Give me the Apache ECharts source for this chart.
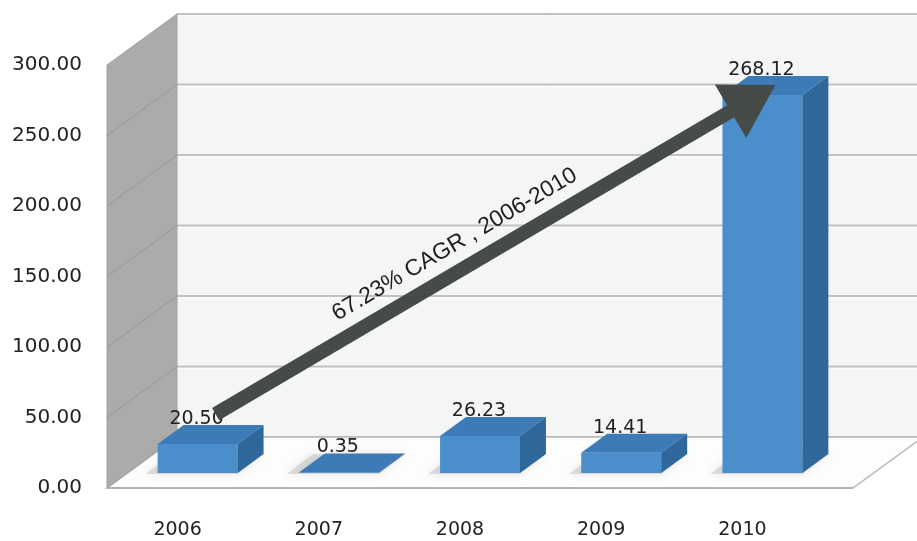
<!DOCTYPE html>
<html>
<head>
<meta charset="utf-8">
<script src="https://cdn.jsdelivr.net/npm/echarts@6/dist/echarts.min.js"></script>
<style>
html,body{margin:0;padding:0;background:#ffffff;}
#chart{width:917px;height:541px;}
</style>
</head>
<body>
<div id="chart"></div>
<script>
// ---- data ----
const categories = ['2006', '2007', '2008', '2009', '2010'];
const values = [20.50, 0.35, 26.23, 14.41, 268.12];
const yMin = 0, yMax = 300, yStep = 50;
const cagrText = '67.23% CAGR , 2006-2010';
const arrowFrom = [0, 20.50];
const arrowTo = [4, 268.12];

// ---- geometry (styling) ----
const DEPTH = [70, -51];       // wall depth vector
const BAR_OFF = [20, -15];     // bar front face offset from front plane
const BAR_DEPTH = [26, -19];   // bar depth vector
const FLOOR_W = 746;

const chart = echarts.init(document.getElementById('chart'), null, {renderer: 'canvas'});

function wallsRender(params, api) {
  const cs = params.coordSys;
  const x0 = cs.x;
  const y0 = api.coord([0, yMin])[1];
  const yT = api.coord([0, yMax])[1];
  const dx = DEPTH[0], dy = DEPTH[1];
  const ch = [];
  ch.push({type: 'rect', shape: {x: x0 + dx, y: yT + dy, width: 1200, height: y0 - yT},
    style: {fill: '#f4f5f5'}});
  for (let v = yMin; v <= yMax; v += yStep) {
    const y = api.coord([0, v])[1] + dy;
    ch.push({type: 'line', shape: {x1: x0 + dx, y1: y, x2: 1200, y2: y},
      style: {stroke: '#c2c2c2', lineWidth: 2}});
    ch.push({type: 'line', shape: {x1: x0 + dx, y1: y + 2, x2: 1200, y2: y + 2},
      style: {stroke: '#ffffff', lineWidth: 1, opacity: 0.8}});
  }
  ch.push({type: 'polygon', shape: {points: [[x0, y0], [x0 + FLOOR_W, y0], [x0 + FLOOR_W + dx, y0 + dy], [x0 + dx, y0 + dy]]},
    style: {fill: '#fdfdfd', stroke: '#b8b8b8', lineWidth: 1.5}});
  ch.push({type: 'polygon', shape: {points: [[x0, yT], [x0 + dx, yT + dy], [x0 + dx, y0 + dy], [x0, y0]]},
    style: {fill: '#ababab', stroke: '#a2a2a2', lineWidth: 1}});
  for (let v = yMin + yStep; v < yMax; v += yStep) {
    const y = api.coord([0, v])[1];
    ch.push({type: 'line', shape: {x1: x0, y1: y, x2: x0 + dx, y2: y + dy},
      style: {stroke: '#979797', lineWidth: 1}});
  }
  ch.push({type: 'line', shape: {x1: x0, y1: y0, x2: x0 + FLOOR_W, y2: y0},
    style: {stroke: '#a8a8a8', lineWidth: 1.5}});
  return {type: 'group', children: ch};
}

function barRender(params, api) {
  const i = api.value(0), v = api.value(1);
  const base = api.coord([i, 0]);
  const top = api.coord([i, v]);
  const w = api.size([1, 0])[0] * 0.566;
  const bx = BAR_DEPTH[0], by = BAR_DEPTH[1];
  const xl = base[0] + BAR_OFF[0] - w / 2, xr = xl + w;
  const yb = base[1] + BAR_OFF[1], yt = top[1] + BAR_OFF[1];
  const ch = [];
  ch.push({type: 'polygon', shape: {points: [[xl - 12, yb + 1], [xr, yb + 1], [xr + bx, yb + by], [xl + bx - 12, yb + by]]},
    style: {fill: 'rgba(170,170,170,0.35)', shadowBlur: 10, shadowColor: 'rgba(140,140,140,0.6)'}});
  ch.push({type: 'rect', shape: {x: xl, y: yt, width: w, height: Math.max(yb - yt, 0.5)},
    style: {fill: '#4a8fcb'}});
  ch.push({type: 'polygon', shape: {points: [[xl, yt], [xr, yt], [xr + bx, yt + by], [xl + bx, yt + by]]},
    style: {fill: '#3c7bb7'}});
  ch.push({type: 'polygon', shape: {points: [[xr, yt], [xr + bx, yt + by], [xr + bx, yb + by], [xr, yb]]},
    style: {fill: '#30679b'}});
  ch.push({type: 'text', x: xl + w / 2 - 1, y: yt - 25, z2: 10,
    style: {text: v.toFixed(2), fill: '#222222', font: '19px "DejaVu Sans"', align: 'center', verticalAlign: 'middle'}});
  return {type: 'group', children: ch};
}

function arrowRender(params, api) {
  const p0 = api.coord(arrowFrom);
  const p1 = api.coord(arrowTo);
  const s = [p0[0] + 38, p0[1] - 45];   // shaft start
  const t = [p1[0] + 33, p1[1] - 25];   // arrow tip
  const ddx = t[0] - s[0], ddy = t[1] - s[1];
  const len = Math.sqrt(ddx * ddx + ddy * ddy);
  const u = [ddx / len, ddy / len];
  const n = [u[1], -u[0]];
  const headL = 52, headW = 31;
  const b = [t[0] - u[0] * headL, t[1] - u[1] * headL];
  const ch = [];
  ch.push({type: 'line', shape: {x1: s[0], y1: s[1], x2: b[0] + u[0] * 4, y2: b[1] + u[1] * 4},
    style: {stroke: '#464b48', lineWidth: 14}});
  ch.push({type: 'polygon', shape: {points: [t, [b[0] + n[0] * headW, b[1] + n[1] * headW], [b[0] - n[0] * headW, b[1] - n[1] * headW]]},
    style: {fill: '#464b48'}});
  const c = [s[0] + u[0] * 292 + n[0] * 25, s[1] + u[1] * 292 + n[1] * 25];
  ch.push({type: 'text', x: c[0], y: c[1], rotation: Math.atan2(-ddy, ddx),
    style: {text: cagrText, fill: '#1e1e1e', font: '23px "Liberation Sans"', align: 'center', verticalAlign: 'middle'}});
  return {type: 'group', children: ch};
}

const option = {
  animation: false,
  backgroundColor: '#ffffff',
  grid: {left: 107, top: 65, width: 706, height: 423},
  xAxis: {
    type: 'category',
    data: categories,
    axisLine: {show: false},
    axisTick: {show: false},
    axisLabel: {fontSize: 19, fontFamily: 'DejaVu Sans', color: '#222222', margin: 33}
  },
  yAxis: {
    type: 'value',
    min: yMin, max: yMax, interval: yStep,
    axisLine: {show: false},
    axisTick: {show: false},
    splitLine: {show: false},
    axisLabel: {fontSize: 20, fontFamily: 'DejaVu Sans', color: '#222222', margin: 25,
      formatter: v => v.toFixed(2)}
  },
  series: [
    {type: 'custom', name: 'walls', z: 1, silent: true, renderItem: wallsRender, data: [[0, 0]]},
    {type: 'custom', name: 'bars', z: 2, renderItem: barRender,
      data: values.map((v, i) => [i, v])},
    {type: 'custom', name: 'arrow', z: 3, silent: true, renderItem: arrowRender, data: [[0, 0]]}
  ]
};
chart.setOption(option);
</script>
</body>
</html>
